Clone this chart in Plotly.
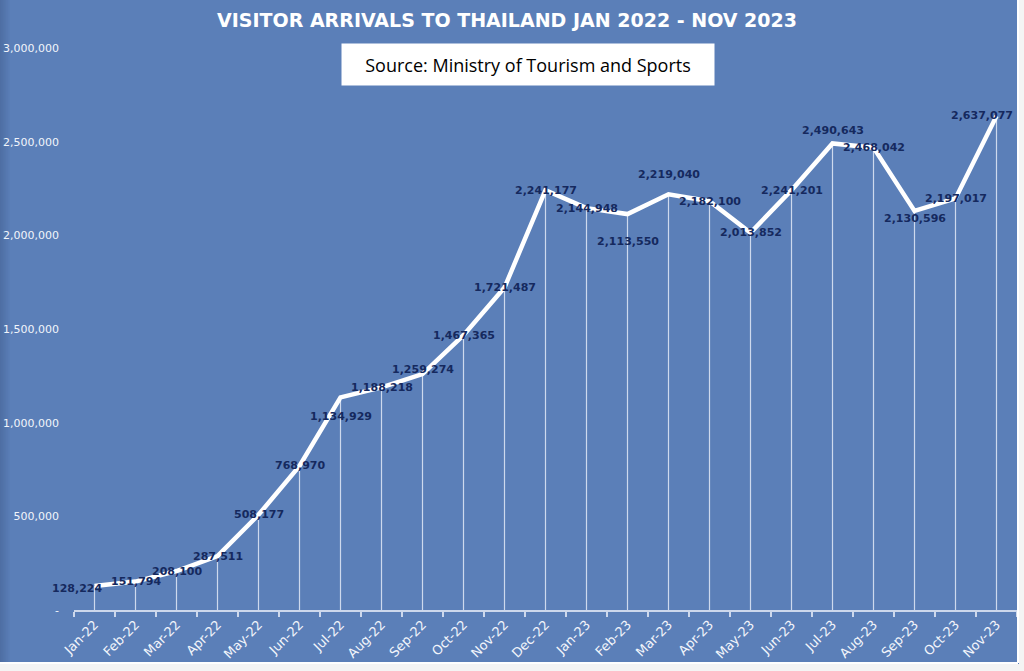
import plotly.graph_objects as go

months = ["Jan-22", "Feb-22", "Mar-22", "Apr-22", "May-22", "Jun-22", "Jul-22", "Aug-22",
          "Sep-22", "Oct-22", "Nov-22", "Dec-22", "Jan-23", "Feb-23", "Mar-23", "Apr-23",
          "May-23", "Jun-23", "Jul-23", "Aug-23", "Sep-23", "Oct-23", "Nov-23"]
arrivals = [128224, 151794, 208100, 287511, 508177, 768970, 1134929, 1188218,
            1259274, 1467365, 1721487, 2241177, 2144948, 2113550, 2219040, 2182100,
            2013852, 2241201, 2490643, 2468042, 2130596, 2197017, 2637077]
y_tickvals = [0, 500000, 1000000, 1500000, 2000000, 2500000, 3000000]
y_ticktext = ["-", "500,000", "1,000,000", "1,500,000", "2,000,000", "2,500,000", "3,000,000"]

# label offsets (px) for data labels: (xshift, yshift)
label_offsets = {0: (-18, -3), 6: (0, -19), 8: (0, 5), 13: (0, -27), 14: (0, 20),
                 18: (0, 13), 20: (0, -8), 22: (-15, 0)}

W, H = 1024, 671
ML, MR, MT, MB = 74, 7, 48, 61
BG = "#5b7fb8"

fig = go.Figure()
fig.add_trace(go.Scatter(
    x=months, y=arrivals, mode="lines",
    line=dict(color="white", width=4.5),
    error_y=dict(type="data", symmetric=False, array=[0] * len(arrivals),
                 arrayminus=arrivals, width=0, thickness=1.2,
                 color="rgba(235,240,250,0.8)"),
    hoverinfo="skip", showlegend=False,
))

annotations = []
for i, (m, v) in enumerate(zip(months, arrivals)):
    dx, dy = label_offsets.get(i, (0, 0))
    annotations.append(dict(
        x=m, y=v, xref="x", yref="y", text=f"<b>{v:,}</b>", showarrow=False,
        xshift=dx, yshift=dy, xanchor="center", yanchor="middle",
        font=dict(family="DejaVu Sans", size=11, color="#15295e"),
    ))

pw = W - ML - MR
ph = H - MT - MB
annotations.append(dict(
    x=(528 - ML) / pw, y=(H - MB - 65) / ph, xref="paper", yref="paper",
    text="Source: Ministry of Tourism and Sports", showarrow=False,
    xanchor="center", yanchor="middle", width=372, height=41,
    bgcolor="white", borderpad=0,
    font=dict(family="Open Sans", size=18, color="black"),
))

def px_x(p):
    return (p - ML) / pw

def px_y(p):
    return (H - MB - p) / ph

shapes = []
# subtle darker shading at the left edge
for k in range(10):
    shapes.append(dict(type="rect", xref="paper", yref="paper",
                       x0=px_x(k), x1=px_x(k + 1), y0=px_y(H + 5), y1=px_y(-5),
                       fillcolor="rgba(30,50,90,%.3f)" % (0.22 * (1 - k / 10)),
                       line=dict(width=0), layer="below"))
shapes += [
    dict(type="rect", xref="paper", yref="paper",
         x0=px_x(1019), x1=px_x(W + 5), y0=px_y(H + 5), y1=px_y(-5),
         fillcolor="#f4f4f4", line=dict(width=0), layer="above"),
    dict(type="rect", xref="paper", yref="paper",
         x0=px_x(-5), x1=px_x(W + 5), y0=px_y(H + 5), y1=px_y(664),
         fillcolor="#f4f4f4", line=dict(width=0), layer="above"),
    dict(type="line", xref="paper", yref="paper",
         x0=px_x(1018), x1=px_x(1018), y0=px_y(663), y1=px_y(-5),
         line=dict(color="white", width=2), layer="above"),
    dict(type="line", xref="paper", yref="paper",
         x0=px_x(-5), x1=px_x(1018), y0=px_y(663), y1=px_y(663),
         line=dict(color="white", width=2), layer="above"),
]

fig.update_layout(
    width=W, height=H,
    margin=dict(l=ML, r=MR, t=MT, b=MB, autoexpand=False),
    paper_bgcolor=BG, plot_bgcolor=BG,
    title=dict(text="<b>VISITOR ARRIVALS TO THAILAND JAN 2022 - NOV 2023</b>",
               x=507 / W, xanchor="center", y=1 - 20 / H, yanchor="middle",
               font=dict(family="DejaVu Sans", size=19, color="white")),
    xaxis=dict(type="category", range=[-0.5, len(months) - 0.5], tickson="boundaries",
               showgrid=False, zeroline=False, showline=True, linecolor="#cdd8ec", linewidth=2,
               ticks="outside", ticklen=5, tickcolor="#cdd8ec", tickwidth=2, tickangle=-45,
               automargin=False,
               tickfont=dict(family="DejaVu Sans", size=13, color="#f2f5fb")),
    yaxis=dict(range=[0, 3000000], tickvals=y_tickvals, ticktext=y_ticktext,
               showgrid=False, zeroline=False, showline=False, ticks="",
               ticklabelstandoff=14, automargin=False,
               tickfont=dict(family="DejaVu Sans", size=11, color="#f2f5fb")),
    annotations=annotations,
    shapes=shapes,
)

fig.write_html("out.html", config={"displayModeBar": False},
               post_script="document.body.style.margin='0';document.body.style.background='#f4f4f4';")
